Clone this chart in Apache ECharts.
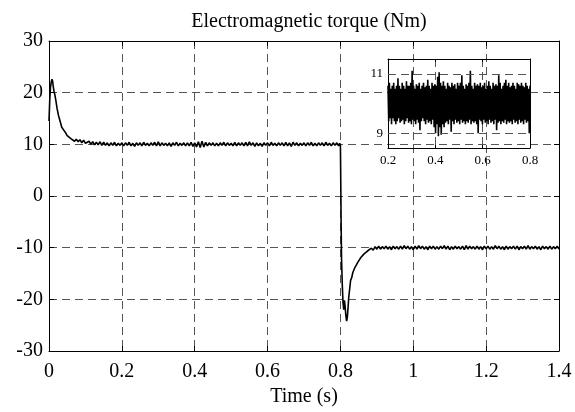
<!DOCTYPE html>
<html>
<head>
<meta charset="utf-8">
<script src="https://cdn.jsdelivr.net/npm/echarts@6/dist/echarts.min.js"></script>
<style>
html,body{margin:0;padding:0;background:#fff;}
#chart{width:575px;height:412px;}
</style>
</head>
<body>
<div id="chart"></div>
<script>
// ---------- data (time in s, torque in Nm) ----------
const titleText = 'Electromagnetic torque (Nm)';
const xAxisName = 'Time (s)';
const mainTimeTicks = [0, 1.4, 0.2];      // min, max, step
const mainTorqueTicks = [-30, 30, 10];
const zoomTimeTicks = [0.2, 0.8, 0.2];
const zoomTorqueRange = [8.5, 11.5];
const zoomTorqueLabels = [9, 11];

const startup = [
  [0,14.5],[0.002,18.5],[0.004,21],[0.006,22],[0.008,22.6],[0.010,22.2],[0.012,21],[0.014,20.2],
  [0.016,19.6],[0.019,18.4],[0.022,17.0],[0.026,15.6],[0.030,14.6],[0.035,13.3],[0.040,12.8],
  [0.045,12.3],[0.050,11.7],[0.055,11.8],[0.060,11.1],[0.065,11.3],[0.070,10.6],[0.075,11.0],
  [0.080,10.5],[0.085,10.9],[0.090,10.3],[0.095,10.8],[0.100,10.2]
];
const steadyPositive = [
  [0.105,10.1],[0.110,10.6],[0.115,10.0],[0.120,10.5],[0.125,9.9],[0.130,10.4],[0.135,9.9],[0.140,10.5],
  [0.145,9.8],[0.150,10.4],[0.155,9.8],[0.160,10.3],[0.165,9.7],[0.170,10.3],[0.175,9.8],[0.180,10.4],
  [0.185,9.7],[0.190,10.2],[0.195,9.8],[0.200,10.3],[0.205,9.7],[0.210,10.3],[0.215,9.8],[0.220,10.4],
  [0.225,9.7],[0.230,10.2],[0.235,9.6],[0.240,10.3],[0.245,9.8],[0.250,10.3],[0.255,9.7],[0.260,10.4],
  [0.265,9.8],[0.270,10.2],[0.275,9.7],[0.280,10.3],[0.285,9.8],[0.290,10.4],[0.295,9.7],[0.300,10.5],
  [0.305,9.7],[0.310,10.3],[0.315,9.8],[0.320,10.2],[0.325,9.7],[0.330,10.3],[0.335,9.6],[0.340,10.3],
  [0.345,9.8],[0.350,10.4],[0.355,9.7],[0.360,10.2],[0.365,9.8],[0.370,10.3],[0.375,9.7],[0.380,10.3],
  [0.385,9.7],[0.390,10.4],[0.395,9.6],[0.400,10.3],[0.405,9.5],[0.410,10.5],[0.415,9.4],[0.420,10.6],
  [0.425,9.5],[0.430,10.4],[0.435,9.7],[0.440,10.3],[0.445,9.8],[0.450,10.3],[0.455,9.7],[0.460,10.2],
  [0.465,9.7],[0.470,10.3],[0.475,9.8],[0.480,10.4],[0.485,9.7],[0.490,10.3],[0.495,9.8],[0.500,10.2],
  [0.505,9.7],[0.510,10.4],[0.515,9.7],[0.520,10.3],[0.525,9.8],[0.530,10.3],[0.535,9.7],[0.540,10.4],
  [0.545,9.7],[0.550,10.5],[0.555,9.8],[0.560,10.3],[0.565,9.6],[0.570,10.3],[0.575,9.7],[0.580,10.2],
  [0.585,9.6],[0.590,10.3],[0.595,9.8],[0.600,10.3],[0.605,9.7],[0.610,10.4],[0.615,9.8],[0.620,10.2],
  [0.625,9.7],[0.630,10.3],[0.635,9.8],[0.640,10.3],[0.645,9.7],[0.650,10.4],[0.655,9.7],[0.660,10.3],
  [0.665,9.6],[0.670,10.4],[0.675,9.8],[0.680,10.3],[0.685,9.7],[0.690,10.2],[0.695,9.8],[0.700,10.3],
  [0.705,9.7],[0.710,10.3],[0.715,9.8],[0.720,10.4],[0.725,9.7],[0.730,10.2],[0.735,9.7],[0.740,10.3],
  [0.745,9.8],[0.750,10.3],[0.755,9.7],[0.760,10.4],[0.765,9.8],[0.770,10.2],[0.775,9.7],[0.780,10.3],
  [0.785,9.8],[0.790,10.3],[0.795,9.7]
];
const reversal = [
  [0.798,10.2],[0.800,9.8],[0.801,2],[0.802,-6],[0.803,-12],[0.805,-17],[0.807,-20.5],[0.809,-22],
  [0.811,-20.2],[0.813,-21.5],[0.815,-23.2],[0.817,-24.2],[0.819,-23.5],[0.821,-21.5],[0.823,-19.5],
  [0.825,-18.2],[0.828,-16.3],[0.831,-15.8],[0.834,-14.8],[0.837,-14.6],[0.840,-13.8],[0.844,-13.6],
  [0.848,-12.8],[0.852,-12.8],[0.856,-11.9],[0.860,-12.0],[0.865,-11.2],[0.870,-11.3],[0.875,-10.6],
  [0.880,-10.8],[0.885,-10.1],[0.890,-10.5],[0.895,-9.8],[0.900,-10.3]
];
const steadyNegative = [
  [0.905,-9.7],[0.910,-10.3],[0.915,-9.8],[0.920,-10.2],[0.925,-9.7],[0.930,-10.3],[0.935,-9.8],[0.940,-10.4],[0.945,-9.7],[0.950,-10.2],
  [0.955,-9.8],[0.960,-10.3],[0.965,-9.7],[0.970,-10.3],[0.975,-9.6],[0.980,-10.2],[0.985,-9.7],[0.990,-10.3],[0.995,-9.8],[1.000,-10.4],
  [1.005,-9.7],[1.010,-10.3],[1.015,-9.6],[1.020,-10.2],[1.025,-9.7],[1.030,-10.3],[1.035,-9.8],[1.040,-10.4],[1.045,-9.7],[1.050,-10.2],
  [1.055,-9.7],[1.060,-10.3],[1.065,-9.8],[1.070,-10.3],[1.075,-9.7],[1.080,-10.2],[1.085,-9.6],[1.090,-10.3],[1.095,-9.7],[1.100,-10.4],
  [1.105,-9.8],[1.110,-10.3],[1.115,-9.7],[1.120,-10.2],[1.125,-9.8],[1.130,-10.3],[1.135,-9.7],[1.140,-10.4],[1.145,-9.6],[1.150,-10.3],
  [1.155,-9.7],[1.160,-10.2],[1.165,-9.8],[1.170,-10.3],[1.175,-9.7],[1.180,-10.3],[1.185,-9.8],[1.190,-10.4],[1.195,-9.7],[1.200,-10.2],
  [1.205,-9.7],[1.210,-10.3],[1.215,-9.8],[1.220,-10.3],[1.225,-9.6],[1.230,-10.2],[1.235,-9.7],[1.240,-10.3],[1.245,-9.8],[1.250,-10.4],
  [1.255,-9.7],[1.260,-10.3],[1.265,-9.8],[1.270,-10.2],[1.275,-9.7],[1.280,-10.3],[1.285,-9.7],[1.290,-10.4],[1.295,-9.8],[1.300,-10.2],
  [1.305,-9.7],[1.310,-10.3],[1.315,-9.6],[1.320,-10.3],[1.325,-9.8],[1.330,-10.2],[1.335,-9.7],[1.340,-10.3],[1.345,-9.8],[1.350,-10.4],
  [1.355,-9.7],[1.360,-10.2],[1.365,-9.8],[1.370,-10.3],[1.375,-9.7],[1.380,-10.3],[1.385,-9.8],[1.390,-10.2],[1.395,-9.7],[1.400,-10.3]
];
// zoomed window 0.2 - 0.8 s
const zoomDetail = [
  [0.200,10.6],[0.203,9.4],[0.206,10.7],[0.209,9.5],[0.212,10.5],[0.215,9.3],[0.218,10.6],[0.221,9.5],[0.224,10.7],[0.227,9.4],
  [0.230,10.5],[0.233,9.3],[0.236,10.6],[0.239,9.4],[0.242,10.85],[0.245,9.5],[0.248,10.6],[0.251,9.35],[0.254,10.5],[0.257,9.4],
  [0.260,10.7],[0.263,9.45],[0.266,10.6],[0.269,9.3],[0.272,10.5],[0.275,9.4],[0.278,10.75],[0.281,9.5],[0.284,10.6],[0.287,9.35],
  [0.290,10.6],[0.293,9.4],[0.296,10.7],[0.299,9.3],[0.302,11.1],[0.305,9.45],[0.308,10.6],[0.311,9.4],[0.314,10.5],[0.317,9.3],
  [0.320,10.65],[0.323,9.45],[0.326,10.6],[0.329,9.35],[0.332,10.7],[0.335,9.1],[0.338,10.5],[0.341,9.4],[0.344,10.6],[0.347,9.5],
  [0.350,10.7],[0.353,9.4],[0.356,10.55],[0.359,9.3],[0.362,10.6],[0.365,9.45],[0.368,10.8],[0.371,9.35],[0.374,10.6],[0.377,9.4],
  [0.380,10.5],[0.383,9.3],[0.386,10.7],[0.389,9.45],[0.392,10.6],[0.395,9.2],[0.398,10.65],[0.401,9.0],[0.404,10.6],[0.407,9.3],
  [0.410,10.9],[0.413,8.9],[0.416,11.05],[0.419,9.2],[0.422,10.7],[0.425,8.95],[0.428,10.6],[0.431,9.3],[0.434,10.75],[0.437,9.2],
  [0.440,10.6],[0.443,9.35],[0.446,10.5],[0.449,9.4],[0.452,10.7],[0.455,9.3],[0.458,10.6],[0.461,9.45],[0.464,10.55],[0.467,9.05],
  [0.470,10.7],[0.473,9.4],[0.476,10.6],[0.479,9.3],[0.482,10.65],[0.485,9.45],[0.488,10.5],[0.491,9.35],[0.494,10.7],[0.497,9.4],
  [0.500,10.6],[0.503,9.3],[0.506,10.7],[0.509,9.45],[0.512,10.95],[0.515,9.35],[0.518,10.6],[0.521,9.4],[0.524,10.5],[0.527,9.3],
  [0.530,10.65],[0.533,9.4],[0.536,10.6],[0.539,9.35],[0.542,10.7],[0.545,9.45],[0.548,11.1],[0.551,9.3],[0.554,10.6],[0.557,9.4],
  [0.560,10.5],[0.563,9.35],[0.566,10.7],[0.569,9.4],[0.572,10.6],[0.575,9.3],[0.578,10.65],[0.581,9.0],[0.584,10.6],[0.587,9.45],
  [0.590,10.7],[0.593,9.4],[0.596,10.55],[0.599,9.3],[0.602,10.6],[0.605,9.45],[0.608,10.7],[0.611,9.35],[0.614,10.5],[0.617,9.4],
  [0.620,10.6],[0.623,9.3],[0.626,10.75],[0.629,9.45],[0.632,10.6],[0.635,9.35],[0.638,10.5],[0.641,9.4],[0.644,10.7],[0.647,9.3],
  [0.650,10.6],[0.653,9.45],[0.656,10.65],[0.659,9.1],[0.662,10.6],[0.665,9.35],[0.668,10.95],[0.671,9.4],[0.674,10.7],[0.677,9.3],
  [0.680,10.5],[0.683,9.4],[0.686,10.6],[0.689,9.35],[0.692,10.7],[0.695,9.45],[0.698,10.8],[0.701,9.3],[0.704,10.6],[0.707,9.4],
  [0.710,10.7],[0.713,9.35],[0.716,10.55],[0.719,9.4],[0.722,10.6],[0.725,9.3],[0.728,10.7],[0.731,9.45],[0.734,10.6],[0.737,9.35],
  [0.740,10.5],[0.743,9.4],[0.746,10.7],[0.749,9.3],[0.752,10.65],[0.755,9.45],[0.758,10.6],[0.761,9.35],[0.764,10.7],[0.767,9.4],
  [0.770,10.6],[0.773,9.3],[0.776,10.55],[0.779,9.45],[0.782,10.7],[0.785,9.35],[0.788,10.6],[0.791,9.4],[0.794,10.5],[0.797,9.0],
  [0.800,10.6]
];

// ---------- chart ----------
const FONT = 'Liberation Serif';
const mainData = [].concat(startup, steadyPositive, reversal, steadyNegative);
const dashed = { show: true, lineStyle: { color: '#555', width: 1, type: [8, 5] } };
const frameLine = { show: true, onZero: false, lineStyle: { color: '#000', width: 1 } };
const inTick = (len) => ({ show: true, inside: true, length: len, lineStyle: { color: '#000' } });

const option = {
  animation: false,
  backgroundColor: '#fff',
  title: {
    text: titleText, left: 304, top: 7, textAlign: 'center',
    textStyle: { fontFamily: FONT, fontSize: 20, fontWeight: 'normal', color: '#000' }
  },
  grid: [
    { left: 49, right: 16, top: 41, bottom: 56 },
    { left: 388, right: 45, top: 59, bottom: 264 }
  ],
  xAxis: [
    { type: 'value', gridIndex: 0, min: mainTimeTicks[0], max: mainTimeTicks[1], interval: mainTimeTicks[2],
      axisLine: frameLine, axisTick: inTick(5), splitLine: dashed,
      axisLabel: { fontFamily: FONT, fontSize: 20, color: '#000', margin: 11 },
      name: xAxisName, nameLocation: 'middle', nameGap: 36,
      nameTextStyle: { fontFamily: FONT, fontSize: 20, color: '#000' } },
    { type: 'value', gridIndex: 0, position: 'top', min: mainTimeTicks[0], max: mainTimeTicks[1], interval: mainTimeTicks[2],
      axisLine: frameLine, axisTick: inTick(5), axisLabel: { show: false }, splitLine: { show: false } },
    { type: 'value', gridIndex: 1, min: zoomTimeTicks[0], max: zoomTimeTicks[1], interval: zoomTimeTicks[2],
      axisLine: frameLine, axisTick: inTick(3), splitLine: dashed,
      axisLabel: { fontFamily: FONT, fontSize: 13, color: '#000', margin: 6 } },
    { type: 'value', gridIndex: 1, position: 'top', min: zoomTimeTicks[0], max: zoomTimeTicks[1], interval: zoomTimeTicks[2],
      axisLine: frameLine, axisTick: inTick(3), axisLabel: { show: false }, splitLine: { show: false } }
  ],
  yAxis: [
    { type: 'value', gridIndex: 0, min: mainTorqueTicks[0], max: mainTorqueTicks[1], interval: mainTorqueTicks[2],
      axisLine: frameLine, axisTick: inTick(5), splitLine: dashed,
      axisLabel: { fontFamily: FONT, fontSize: 20, color: '#000', margin: 6 } },
    { type: 'value', gridIndex: 0, position: 'right', min: mainTorqueTicks[0], max: mainTorqueTicks[1], interval: mainTorqueTicks[2],
      axisLine: frameLine, axisTick: inTick(5), axisLabel: { show: false }, splitLine: { show: false } },
    { type: 'value', gridIndex: 1, min: zoomTorqueRange[0], max: zoomTorqueRange[1],
      axisLine: frameLine,
      axisTick: { show: true, inside: true, length: 3, customValues: zoomTorqueLabels, lineStyle: { color: '#000' } },
      axisLabel: { fontFamily: FONT, fontSize: 13, color: '#000', margin: 5, customValues: zoomTorqueLabels },
      splitLine: { show: false } },
    { type: 'value', gridIndex: 1, position: 'right', min: zoomTorqueRange[0], max: zoomTorqueRange[1],
      axisLine: frameLine, axisTick: { show: false }, axisLabel: { show: false }, splitLine: { show: false } }
  ],
  series: [
    { type: 'line', xAxisIndex: 0, yAxisIndex: 0, data: mainData, showSymbol: false, symbol: 'none',
      lineStyle: { color: '#000', width: 1.6 }, silent: true },
    { type: 'line', xAxisIndex: 2, yAxisIndex: 2, data: zoomDetail, showSymbol: false, symbol: 'none',
      lineStyle: { color: '#000', width: 1.6 }, silent: true, clip: true,
      markLine: {
        silent: true, symbol: 'none', label: { show: false },
        lineStyle: { color: '#555', width: 1, type: [8, 5] },
        data: zoomTorqueLabels.map(v => ({ yAxis: v }))
      } }
  ]
};

const chart = echarts.init(document.getElementById('chart'), null, { renderer: 'canvas' });
chart.setOption(option);
</script>
</body>
</html>
